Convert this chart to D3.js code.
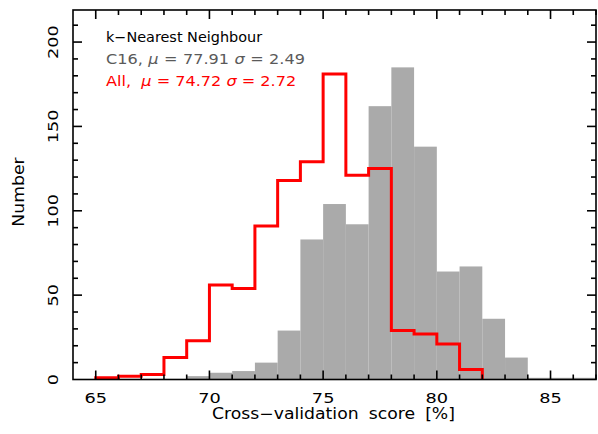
<!DOCTYPE html>
<html>
<head>
<meta charset="utf-8">
<script src="https://cdn.jsdelivr.net/npm/d3@7"></script>
<style>
  html, body { margin: 0; padding: 0; background: #fff; }
  svg { display: block; }
  text { font-family: "DejaVu Sans", "Liberation Sans", sans-serif; }
</style>
</head>
<body>
<svg id="chart" width="598" height="434"></svg>
<script>
// Histogram bins: left edge of each 1%-wide bin
const c16Bins   = [69, 70, 71, 72, 73, 74, 75, 76, 77, 78, 79, 80, 81, 82, 83, 84, 85, 86];
const c16Counts = [2, 4, 5, 10, 29, 83, 104, 92, 162, 185, 138, 64, 67, 36, 13, 1, 1, 1];

const allBins   = [65, 66, 67, 68, 69, 70, 71, 72, 73, 74, 75, 76, 77, 78, 79, 80, 81];
const allCounts = [1, 2, 3, 13, 23, 56, 54, 91, 118, 129, 181, 121, 125, 29, 27, 21, 6];

const xTicks = [65, 70, 75, 80, 85];
const yTicks = [0, 50, 100, 150, 200];

const title = "k\u2212Nearest Neighbour";
const c16Stats = { label: "C16,", mu: "77.91", sigma: "2.49" };
const allStats = { label: "All,", mu: "74.72", sigma: "2.72" };

const svg = d3.select("#chart");
const plotL = 73, plotR = 596, plotT = 10, plotB = 379.5;

const x = d3.scaleLinear().domain([64, 87]).range([plotL, plotR]);
const y = d3.scaleLinear().domain([0, 219]).range([plotB, plotT]);

// C16 filled bars
svg.append("g").selectAll("rect")
  .data(c16Bins.map((b, i) => ({ b, v: c16Counts[i] })))
  .join("rect")
  .attr("x", d => x(d.b))
  .attr("width", d => x(d.b + 1) - x(d.b))
  .attr("y", d => y(d.v))
  .attr("height", d => y(0) - y(d.v))
  .attr("fill", "#aaaaaa");

// All: outlined step histogram
const stepPts = [[allBins[0], 0]];
allBins.forEach((b, i) => {
  stepPts.push([b, allCounts[i]]);
  stepPts.push([b + 1, allCounts[i]]);
});
stepPts.push([allBins[allBins.length - 1] + 1, 0]);

svg.append("path")
  .attr("d", d3.line().x(d => x(d[0])).y(d => y(d[1]))(stepPts))
  .attr("fill", "none")
  .attr("stroke", "#ff0000")
  .attr("stroke-width", 3)
  .attr("stroke-linejoin", "miter");

// Frame with inward ticks on all four sides
const frame = svg.append("g").attr("stroke", "#000").attr("stroke-width", 1.6);
frame.append("rect")
  .attr("x", plotL).attr("y", plotT)
  .attr("width", plotR - plotL).attr("height", plotB - plotT)
  .attr("fill", "none");

const xMinor = d3.range(65, 87.01, 1);
const yMinor = d3.range(10, 219, 10);
xMinor.forEach(v => {
  const len = v % 5 === 0 ? 9 : 5;
  frame.append("line").attr("x1", x(v)).attr("x2", x(v)).attr("y1", plotB).attr("y2", plotB - len);
  frame.append("line").attr("x1", x(v)).attr("x2", x(v)).attr("y1", plotT).attr("y2", plotT + len);
});
yMinor.forEach(v => {
  const len = v % 50 === 0 ? 9 : 5;
  frame.append("line").attr("y1", y(v)).attr("y2", y(v)).attr("x1", plotL).attr("x2", plotL + len);
  frame.append("line").attr("y1", y(v)).attr("y2", y(v)).attr("x1", plotR).attr("x2", plotR - len);
});

// Horizontally stretched text, placed by translate / optional rotation
function label(parent, str, tx, ty, o) {
  const t = parent.append("text")
    .attr("transform", `translate(${tx},${ty})${o.rot ? ` rotate(${o.rot})` : ""} scale(${o.sx || 1},1)`)
    .attr("font-size", o.size)
    .attr("text-anchor", o.anchor || "start")
    .attr("xml:space", "preserve")
    .attr("fill", o.fill || "#000");
  if (o.ws) t.attr("word-spacing", o.ws);
  return t.text(str);
}

// Tick labels
const tickG = svg.append("g");
xTicks.forEach(d => label(tickG, String(d), x(d), 402.5, { size: 14.8, sx: 1.2, anchor: "middle" }));
yTicks.forEach(d => label(tickG, String(d), 57.5, y(d), { size: 14.8, sx: 1.2, anchor: "middle", rot: -90 }));

// Axis titles
label(svg, "Cross\u2212validation score [%]", (plotL + plotR) / 2 - 1, 418.5,
  { size: 15, sx: 1.15, anchor: "middle", ws: 4 });
label(svg, "Number", 23.5, 192, { size: 15, sx: 1.15, anchor: "middle", rot: -90 });

// Legend text block
label(svg, title, 106, 42.3, { size: 14, sx: 1.03 });

function statLine(stats, yPos, color, gap, ws) {
  const t = label(svg, "", 106, yPos, { size: 14, sx: 1.15, fill: color, ws });
  t.append("tspan").text(stats.label + gap);
  t.append("tspan").attr("font-style", "italic").text("\u03bc");
  t.append("tspan").text(" = " + stats.mu + " ");
  t.append("tspan").attr("font-style", "italic").text("\u03c3");
  t.append("tspan").text(" = " + stats.sigma);
}
statLine(c16Stats, 64.3, "#5a5a5a", " ", 0.3);
statLine(allStats, 86.3, "#ff0000", "  ", 0);
</script>
</body>
</html>
